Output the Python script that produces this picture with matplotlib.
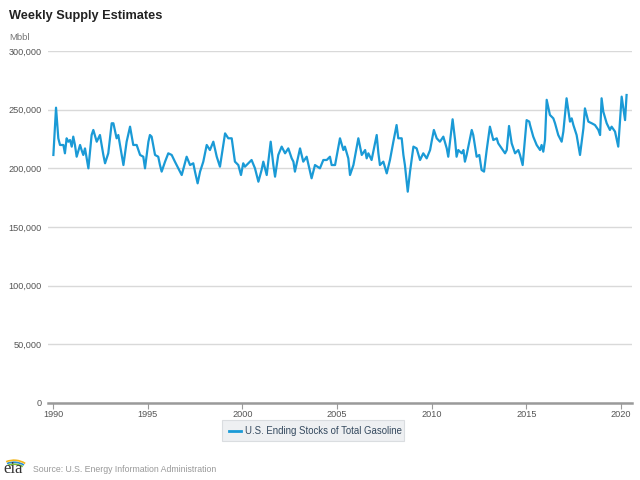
import matplotlib
matplotlib.use("Agg")
import matplotlib.pyplot as plt
from matplotlib.patches import Arc, FancyBboxPatch
from matplotlib.lines import Line2D

plt.rcParams['font.family'] = ['Liberation Sans', 'DejaVu Sans']

title = "Weekly Supply Estimates"
unit_label = "Mbbl"
series_name = "U.S. Ending Stocks of Total Gasoline"
source_text = "Source: U.S. Energy Information Administration"

# decimal year, thousand barrels
dates = [
    1990.02, 1990.16, 1990.28, 1990.37, 1990.55, 1990.63, 1990.72, 1990.81, 1990.90, 1990.99,
    1991.07, 1991.16, 1991.25, 1991.43, 1991.51, 1991.60, 1991.69, 1991.78, 1991.87, 1992.04,
    1992.13, 1992.31, 1992.48, 1992.66, 1992.75, 1992.92, 1993.10, 1993.19, 1993.36, 1993.45,
    1993.54, 1993.72, 1993.89, 1994.07, 1994.24, 1994.42, 1994.60, 1994.77, 1994.86, 1995.04,
    1995.12, 1995.21, 1995.39, 1995.56, 1995.65, 1995.74, 1995.92, 1996.09, 1996.27, 1996.44,
    1996.62, 1996.80, 1997.06, 1997.24, 1997.41, 1997.50, 1997.64, 1997.77, 1997.94, 1998.12,
    1998.29, 1998.47, 1998.65, 1998.82, 1999.09, 1999.26, 1999.44, 1999.61, 1999.79, 1999.93,
    2000.05, 2000.14, 2000.32, 2000.49, 2000.67, 2000.85, 2001.02, 2001.11, 2001.29, 2001.50,
    2001.64, 2001.73, 2001.90, 2002.08, 2002.26, 2002.43, 2002.61, 2002.70, 2002.78, 2003.05,
    2003.22, 2003.40, 2003.58, 2003.66, 2003.84, 2004.10, 2004.28, 2004.46, 2004.63, 2004.72,
    2004.90, 2005.16, 2005.34, 2005.42, 2005.60, 2005.69, 2005.87, 2006.13, 2006.31, 2006.49,
    2006.57, 2006.66, 2006.83, 2007.10, 2007.19, 2007.27, 2007.45, 2007.63, 2007.80, 2007.98,
    2008.15, 2008.24, 2008.42, 2008.51, 2008.59, 2008.74, 2008.86, 2009.04, 2009.21, 2009.39,
    2009.56, 2009.74, 2009.92, 2010.00, 2010.12, 2010.27, 2010.44, 2010.62, 2010.80, 2010.88,
    2011.11, 2011.24, 2011.32, 2011.41, 2011.59, 2011.68, 2011.76, 2011.85, 2012.12, 2012.20,
    2012.38, 2012.52, 2012.64, 2012.77, 2012.91, 2013.08, 2013.26, 2013.44, 2013.52, 2013.70,
    2013.88, 2013.97, 2014.09, 2014.23, 2014.41, 2014.58, 2014.67, 2014.81, 2015.02, 2015.16,
    2015.20, 2015.37, 2015.55, 2015.73, 2015.81, 2015.90, 2015.99, 2016.08, 2016.25, 2016.43,
    2016.52, 2016.69, 2016.87, 2016.96, 2017.13, 2017.31, 2017.40, 2017.49, 2017.66, 2017.84,
    2018.02, 2018.10, 2018.28, 2018.46, 2018.63, 2018.81, 2018.90, 2018.98, 2019.07, 2019.25,
    2019.42, 2019.51, 2019.69, 2019.86, 2020.04, 2020.22, 2020.30,
]
stocks = [
    211.4, 251.7, 225.6, 219.9, 219.9, 212.8, 225.6, 222.7, 224.1, 218.5,
    227.0, 219.9, 209.9, 219.9, 215.6, 211.4, 217.0, 208.5, 200.0, 228.4,
    232.7, 222.7, 228.4, 211.4, 204.3, 212.8, 238.4, 238.4, 225.6, 228.4,
    219.9, 202.8, 222.7, 235.5, 219.9, 219.9, 211.4, 209.9, 200.0, 222.7,
    228.4, 227.0, 211.4, 209.9, 202.8, 197.2, 205.7, 212.8, 211.4, 205.7,
    200.0, 194.3, 209.9, 202.8, 204.3, 197.2, 187.2, 197.2, 205.7, 219.9,
    215.6, 222.7, 209.9, 201.4, 229.8, 225.6, 225.6, 205.7, 202.8, 194.3,
    204.3, 201.4, 204.3, 207.1, 200.0, 188.6, 198.6, 205.7, 194.3, 222.7,
    202.8, 192.9, 211.4, 218.5, 212.8, 217.0, 208.5, 205.7, 197.2, 217.0,
    205.7, 209.9, 197.2, 191.5, 202.8, 200.0, 207.1, 207.1, 209.9, 202.8,
    202.8, 225.6, 215.6, 218.5, 208.5, 194.3, 202.8, 225.6, 211.4, 215.6,
    208.5, 212.8, 207.1, 228.4, 212.8, 202.8, 205.7, 195.7, 207.1, 222.7,
    236.9, 225.6, 225.6, 211.4, 202.8, 180.1, 197.2, 218.5, 217.0, 207.1,
    212.8, 208.5, 215.6, 222.7, 232.7, 225.6, 222.7, 227.0, 217.0, 209.9,
    241.8, 224.1, 209.9, 215.6, 212.8, 215.6, 205.7, 211.4, 232.7, 228.4,
    209.9, 211.4, 198.6, 197.2, 215.6, 235.5, 224.1, 225.6, 221.3, 217.0,
    212.8, 215.6, 236.1, 221.3, 212.8, 215.6, 211.4, 202.8, 241.1, 239.8,
    236.9, 227.0, 219.9, 215.6, 219.9, 214.2, 224.1, 258.4, 245.5, 242.6,
    238.4, 228.4, 222.7, 231.3, 259.7, 239.8, 242.6, 236.9, 228.4, 211.4,
    234.1, 251.1, 239.8, 238.4, 236.9, 232.7, 228.4, 259.7, 248.3, 238.4,
    232.7, 235.5, 231.3, 218.5, 261.1, 241.1, 262.5,
]

year_ticks = [1990, 1995, 2000, 2005, 2010, 2015, 2020]
y_ticks = [0, 50000, 100000, 150000, 200000, 250000, 300000]

line_color = '#1a9ad6'

fig = plt.figure(figsize=(6.4, 4.8), dpi=100)
ax = fig.add_axes([48/640, 1-403/480, (632-48)/640, (403-51)/480])

ax.plot(dates, [v * 1000 for v in stocks], color=line_color, lw=1.6, solid_joinstyle='round', zorder=3)

ax.set_xlim(1990 + (48-53)/18.93, 1990 + (632-53)/18.93)
ax.set_ylim(0, 300000)
ax.set_xticks(year_ticks)
ax.set_xticklabels([str(y) for y in year_ticks])
ax.set_yticks(y_ticks)
ax.set_yticklabels([f"{v:,}" for v in y_ticks])

ax.grid(axis='y', color='#d9d9d9', lw=1)
ax.set_axisbelow(True)
for s in ['top', 'right', 'left']:
    ax.spines[s].set_visible(False)
ax.spines['bottom'].set_color('#9a9a9a')
ax.spines['bottom'].set_linewidth(1.8)
ax.tick_params(axis='y', length=0, pad=4.5, labelsize=6.6, labelcolor='#555555')
ax.tick_params(axis='x', length=4, width=0.8, color='#9a9a9a', pad=1, labelsize=6.6, labelcolor='#555555')

fig.text(9/640, 1-16/480, title, fontsize=9.2, fontweight='bold', color='#222222', va='center', ha='left')
fig.text(9/640, 1-38/480, unit_label, fontsize=6.8, color='#777777', va='center', ha='left')

# legend box
box = FancyBboxPatch((222/640, 1-441/480), (404-222)/640, 21/480,
                     boxstyle='square,pad=0', transform=fig.transFigure,
                     facecolor='#eef0f2', edgecolor='#dadde0', lw=0.8)
fig.patches.append(box)
fig.add_artist(Line2D([229/640, 241/640], [1-431/480, 1-431/480], color=line_color, lw=2, transform=fig.transFigure))
fig.text(245/640, 1-431/480, series_name, fontsize=6.9, color='#34495e', va='center', ha='left')

# eia logo and source
fig.text(3/640, 1-469/480, "eia", fontsize=12, family='Liberation Serif', color='#333333', va='center', ha='left')
for r, c in [(9, '#7dbb3a'), (11, '#2a8fd0'), (13, '#f2b51b')]:
    fig.add_artist(Arc((14/640, 1-478/480), 2*r/640 + 0.02, 2*r/480 + 0.02, theta1=60, theta2=110,
                       transform=fig.transFigure, color=c, lw=1.2))
fig.text(33/640, 1-469/480, source_text, fontsize=6.3, color='#999999', va='center', ha='left')

fig.savefig('out.png', dpi=100)
